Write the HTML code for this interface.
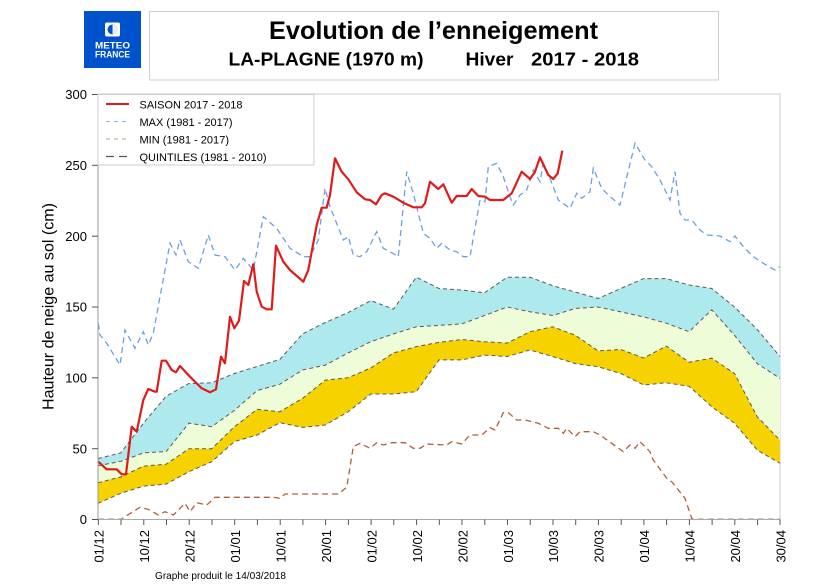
<!DOCTYPE html>
<html><head><meta charset="utf-8"><style>
html,body{margin:0;padding:0;background:#fff;}
svg{display:block;}
</style></head><body>
<svg width="838" height="588" viewBox="0 0 838 588" xmlns="http://www.w3.org/2000/svg" font-family="Liberation Sans, sans-serif">
<rect width="838" height="588" fill="#fff"/>
<!-- logo -->
<rect x="84" y="11" width="57" height="57" fill="#0052cc"/>
<rect x="105" y="22.5" width="15" height="14" rx="2" fill="#fff"/>
<circle cx="112.5" cy="29.5" r="5" fill="#0052cc"/>
<path d="M112.5 24.5 A5 5 0 0 1 112.5 34.5 Z" fill="#fff" opacity="0.9"/>
<text x="112.5" y="48.5" text-anchor="middle" font-size="9" font-weight="bold" fill="#fff" textLength="35" lengthAdjust="spacingAndGlyphs">METEO</text>
<text x="112.5" y="57.5" text-anchor="middle" font-size="9" font-weight="bold" fill="#fff" textLength="35" lengthAdjust="spacingAndGlyphs">FRANCE</text>
<!-- title box -->
<rect x="149.5" y="11.5" width="569" height="68.5" fill="#fff" stroke="#cfcfcf" stroke-width="1"/>
<text x="269" y="39" font-size="25" font-weight="bold" fill="#000" textLength="329" lengthAdjust="spacingAndGlyphs">Evolution de l’enneigement</text>
<text x="228.5" y="65.5" font-size="18" font-weight="bold" fill="#000" textLength="195" lengthAdjust="spacingAndGlyphs">LA-PLAGNE (1970 m)</text>
<text x="465.5" y="65.5" font-size="18" font-weight="bold" fill="#000" textLength="48" lengthAdjust="spacingAndGlyphs">Hiver</text>
<text x="531" y="65.5" font-size="18" font-weight="bold" fill="#000" textLength="108" lengthAdjust="spacingAndGlyphs">2017 - 2018</text>

<!-- frame -->
<rect x="98" y="94" width="682" height="425.5" fill="#fff" stroke="#cccccc" stroke-width="1"/>

<!-- quintile fills -->
<polygon fill="#aeeaed" points="98,458.6 120.7,452.9 143.5,423.1 166.2,396.2 188.9,383.5 211.7,382.8 234.4,373.5 257.1,366.5 279.9,359.4 302.6,333.9 325.3,322.5 348.1,312.6 370.8,300.6 393.5,309.1 416.3,277.2 439,288.5 461.7,290 484.5,292.8 507.2,277.2 529.9,277.2 552.7,285.7 575.4,292.1 598.1,298.5 620.9,288.5 643.6,278.6 666.3,278.6 689.1,285 711.8,288.5 734.5,307 757.3,329.6 780,356.5 780,378.4 757.3,363.6 734.5,335.3 711.8,309.8 689.1,331.7 666.3,323.2 643.6,316.9 620.9,311.9 598.1,307 575.4,308.4 552.7,315.5 529.9,311.8 507.2,307 484.5,315.5 461.7,324 439,325.4 416.3,326.8 393.5,333.9 370.8,341.7 348.1,353 325.3,365.1 302.6,370 279.9,384.2 257.1,390.6 234.4,410.4 211.7,426.7 188.9,423.1 166.2,451.5 143.5,452.9 120.7,461.4 98,465.7"/>
<polygon fill="#effcd8" points="98,465.7 120.7,461.4 143.5,452.9 166.2,451.5 188.9,423.1 211.7,426.7 234.4,410.4 257.1,390.6 279.9,384.2 302.6,370 325.3,365.1 348.1,353 370.8,341.7 393.5,333.9 416.3,326.8 439,325.4 461.7,324 484.5,315.5 507.2,307 529.9,311.8 552.7,315.5 575.4,308.4 598.1,307 620.9,311.9 643.6,316.9 666.3,323.2 689.1,331.7 711.8,309.8 734.5,335.3 757.3,363.6 780,378.4 780,440.2 757.3,416.8 734.5,373.5 711.8,358.2 689.1,362.2 666.3,346.1 643.6,358 620.9,349.5 598.1,350.9 575.4,335.3 552.7,326.8 529.9,331.7 507.2,343.1 484.5,341.7 461.7,339.5 439,342.4 416.3,346.6 393.5,353 370.8,367.9 348.1,377.8 325.3,380.1 302.6,398.3 279.9,411.8 257.1,409.3 234.4,426.7 211.7,448.7 188.9,448.7 166.2,464.2 143.5,466.1 120.7,477 98,482.7"/>
<polygon fill="#f6d200" points="98,482.7 120.7,477 143.5,466.1 166.2,464.2 188.9,448.7 211.7,448.7 234.4,426.7 257.1,409.3 279.9,411.8 302.6,398.3 325.3,380.1 348.1,377.8 370.8,367.9 393.5,353 416.3,346.6 439,342.4 461.7,339.5 484.5,341.7 507.2,343.1 529.9,331.7 552.7,326.8 575.4,335.3 598.1,350.9 620.9,349.5 643.6,358 666.3,346.1 689.1,362.2 711.8,358.2 734.5,373.5 757.3,416.8 780,440.2 780,463.2 757.3,450.1 734.5,423.3 711.8,406.7 689.1,386.3 666.3,382.8 643.6,384.9 620.9,373.5 598.1,366.7 575.4,363.6 552.7,356.5 529.9,350 507.2,356.5 484.5,355.1 461.7,359.9 439,359.9 416.3,391.7 393.5,394 370.8,394 348.1,411.8 325.3,425 302.6,427.4 279.9,422.7 257.1,435 234.4,441.6 211.7,461.7 188.9,471.7 166.2,484.1 143.5,486.1 120.7,493.3 98,503.3"/>

<!-- quintile lines -->
<g fill="none" stroke="#5a5a5a" stroke-width="1" stroke-dasharray="4,3">
<polyline points="98,458.6 120.7,452.9 143.5,423.1 166.2,396.2 188.9,383.5 211.7,382.8 234.4,373.5 257.1,366.5 279.9,359.4 302.6,333.9 325.3,322.5 348.1,312.6 370.8,300.6 393.5,309.1 416.3,277.2 439,288.5 461.7,290 484.5,292.8 507.2,277.2 529.9,277.2 552.7,285.7 575.4,292.1 598.1,298.5 620.9,288.5 643.6,278.6 666.3,278.6 689.1,285 711.8,288.5 734.5,307 757.3,329.6 780,356.5"/>
<polyline points="98,465.7 120.7,461.4 143.5,452.9 166.2,451.5 188.9,423.1 211.7,426.7 234.4,410.4 257.1,390.6 279.9,384.2 302.6,370 325.3,365.1 348.1,353 370.8,341.7 393.5,333.9 416.3,326.8 439,325.4 461.7,324 484.5,315.5 507.2,307 529.9,311.8 552.7,315.5 575.4,308.4 598.1,307 620.9,311.9 643.6,316.9 666.3,323.2 689.1,331.7 711.8,309.8 734.5,335.3 757.3,363.6 780,378.4"/>
<polyline points="98,482.7 120.7,477 143.5,466.1 166.2,464.2 188.9,448.7 211.7,448.7 234.4,426.7 257.1,409.3 279.9,411.8 302.6,398.3 325.3,380.1 348.1,377.8 370.8,367.9 393.5,353 416.3,346.6 439,342.4 461.7,339.5 484.5,341.7 507.2,343.1 529.9,331.7 552.7,326.8 575.4,335.3 598.1,350.9 620.9,349.5 643.6,358 666.3,346.1 689.1,362.2 711.8,358.2 734.5,373.5 757.3,416.8 780,440.2"/>
<polyline points="98,503.3 120.7,493.3 143.5,486.1 166.2,484.1 188.9,471.7 211.7,461.7 234.4,441.6 257.1,435 279.9,422.7 302.6,427.4 325.3,425 348.1,411.8 370.8,394 393.5,394 416.3,391.7 439,359.9 461.7,359.9 484.5,355.1 507.2,356.5 529.9,350 552.7,356.5 575.4,363.6 598.1,366.7 620.9,373.5 643.6,384.9 666.3,382.8 689.1,386.3 711.8,406.7 734.5,423.3 757.3,450.1 780,463.2"/>
</g>

<!-- MIN -->
<polyline fill="none" stroke="#b0603a" stroke-width="1.3" stroke-dasharray="6,4" points="98,519.3 121.7,519.3 123.3,517.7 140,507.3 148.3,509.3 158.3,515 165,511.7 173.3,515 185,503.3 190,511.7 196.7,502.7 206.7,505 215,497.3 273.3,497.3 280,498.3 285,494 338.3,494 346.7,487.3 353.3,446.7 360,443.3 370,448.3 376.7,442.7 383.3,445 391.7,442.7 405,442.7 413.3,448.3 420,448.3 426.7,444 446.7,445 451.7,441.7 461.7,444 470,435 481.7,435 490,427.7 495,430 503.3,412.7 508.3,412.7 516.7,420 525,420 538.3,423.3 548.3,428.3 558.3,428.3 563.3,433.3 566.7,428.3 575,436.7 580,431.7 593.3,431.7 600,435 611.7,443.3 623.3,451.7 630,445 635,448.3 640,441.7 650,451.7 653.3,460 666.7,478.3 671.7,481.7 685,498.3 691.7,518.3 693.3,519.3 780,519.3"/>

<!-- MAX -->
<polyline fill="none" stroke="#6d9fe2" stroke-width="1.3" stroke-dasharray="6,4" points="98.3,323.3 100,335 106.7,343.3 120,365 125,330 135,348.3 143.3,331.7 148.3,345 153.3,333.3 160,296.7 170,243.3 176,255 180,240 188.3,261.7 198.3,268.3 208.3,235 215,255 225,256.7 235,270 243.3,258.3 253.3,270 263.3,216.7 276.7,228.3 290,248.3 303.3,256.7 310,256.7 318.3,240 325,188.3 330,206.7 343.3,240 348.3,236.7 353.3,255 360,256.7 366.7,251.7 376.7,231.7 383.3,248.3 390,251.7 398.3,256.7 406.7,171.7 413.3,193.3 423.3,233.3 430,238.3 436.7,248.3 441.7,243.3 450,250 456.7,251.7 463.3,256.7 470,256.7 480,200 485,201.7 488.3,166.7 496.7,163.3 503.3,176.7 510,196.7 513.3,205 520,195 526.7,190 533.3,170 540,181.7 543.3,163.3 550,178.3 558.3,200 570,208.3 576.7,193.3 581.7,198.3 590,191.7 593.3,168.3 601.7,188.3 608.3,195 620,205 635,143.3 645,160 651.7,166.7 660,180 670,200 675,171.7 680,213.3 685,220 691.7,220 700,230 706.7,235 720,236 730,241.7 735,236 743.3,246.7 753.3,256.7 763.3,263.3 775,270 780,266.7"/>

<!-- SAISON -->
<polyline fill="none" stroke="#e01a1a" stroke-width="2.2" stroke-linejoin="round" points="98.3,461.7 106.7,469.3 116.7,469.3 121.7,474.3 126,474.3 131.7,426.7 136.7,431.7 143.3,400 148.3,389 155,391.7 156.7,391.7 161.7,360.7 166,360.7 171.7,370 176,372.3 180,366 186.7,373.3 193.3,380 201.7,388.3 210,392.3 216,389.3 221,356.7 225,363.3 230,316.7 234.3,328.3 239,320.7 244,281 248.3,285 253.3,264.3 256.7,291.7 261.7,306.7 266.7,309.3 271.7,309.3 276,245.7 283.3,261.7 290,270 303.3,281.7 308.3,270 316.7,225 321.7,207.7 326.7,207.7 330,195 335,158.3 341.7,171.7 348.3,179.3 356.7,192.3 365,199.3 370,200 376,204.3 381.7,195 385,193.3 393.3,196.7 403.3,202.7 413.3,207.3 421.7,207.3 425,203.3 430,181.7 438.3,189 443.3,184.3 451.7,202.7 456.7,196 466.7,196 471.7,189 478.3,196 485,196.7 490,200 503.3,200 511.7,193.3 521.7,171.7 530,179 535,171.7 540,157.3 548.3,175 553.3,179 557.7,173.3 562.3,150.7"/>

<!-- axes -->
<line x1="98" y1="94" x2="98" y2="519.5" stroke="#999" stroke-width="1"/>
<line x1="98" y1="519.5" x2="780" y2="519.5" stroke="#aaa" stroke-width="1"/>
<g stroke="#555" stroke-width="1">
<line x1="92" y1="94.5" x2="98" y2="94.5"/>
<line x1="92" y1="165.3" x2="98" y2="165.3"/>
<line x1="92" y1="236.2" x2="98" y2="236.2"/>
<line x1="92" y1="307" x2="98" y2="307"/>
<line x1="92" y1="377.8" x2="98" y2="377.8"/>
<line x1="92" y1="448.7" x2="98" y2="448.7"/>
<line x1="92" y1="519.5" x2="98" y2="519.5"/>
</g>
<g font-size="13" fill="#000" text-anchor="end">
<text x="87" y="99">300</text>
<text x="87" y="170">250</text>
<text x="87" y="241">200</text>
<text x="87" y="311.7">150</text>
<text x="87" y="382.5">100</text>
<text x="87" y="453.4">50</text>
<text x="87" y="524.2">0</text>
</g>
<g stroke="#555" stroke-width="1">
<line x1="98.3" y1="519.5" x2="98.3" y2="525"/><line x1="121" y1="519.5" x2="121" y2="525"/>
<line x1="143.8" y1="519.5" x2="143.8" y2="525"/><line x1="166.5" y1="519.5" x2="166.5" y2="525"/>
<line x1="189.2" y1="519.5" x2="189.2" y2="525"/><line x1="212" y1="519.5" x2="212" y2="525"/>
<line x1="234.7" y1="519.5" x2="234.7" y2="525"/><line x1="257.4" y1="519.5" x2="257.4" y2="525"/>
<line x1="280.2" y1="519.5" x2="280.2" y2="525"/><line x1="302.9" y1="519.5" x2="302.9" y2="525"/>
<line x1="325.6" y1="519.5" x2="325.6" y2="525"/><line x1="348.4" y1="519.5" x2="348.4" y2="525"/>
<line x1="371.1" y1="519.5" x2="371.1" y2="525"/><line x1="393.8" y1="519.5" x2="393.8" y2="525"/>
<line x1="416.6" y1="519.5" x2="416.6" y2="525"/><line x1="439.3" y1="519.5" x2="439.3" y2="525"/>
<line x1="462" y1="519.5" x2="462" y2="525"/><line x1="484.8" y1="519.5" x2="484.8" y2="525"/>
<line x1="507.5" y1="519.5" x2="507.5" y2="525"/><line x1="530.2" y1="519.5" x2="530.2" y2="525"/>
<line x1="553" y1="519.5" x2="553" y2="525"/><line x1="575.7" y1="519.5" x2="575.7" y2="525"/>
<line x1="598.4" y1="519.5" x2="598.4" y2="525"/><line x1="621.2" y1="519.5" x2="621.2" y2="525"/>
<line x1="643.9" y1="519.5" x2="643.9" y2="525"/><line x1="666.6" y1="519.5" x2="666.6" y2="525"/>
<line x1="689.4" y1="519.5" x2="689.4" y2="525"/><line x1="712.1" y1="519.5" x2="712.1" y2="525"/>
<line x1="734.8" y1="519.5" x2="734.8" y2="525"/><line x1="757.6" y1="519.5" x2="757.6" y2="525"/>
<line x1="780" y1="519.5" x2="780" y2="525"/>
</g>
<g font-size="13" fill="#000" text-anchor="end">
<text transform="translate(103.5,530) rotate(-90)">01/12</text>
<text transform="translate(149,530) rotate(-90)">10/12</text>
<text transform="translate(194.5,530) rotate(-90)">20/12</text>
<text transform="translate(240,530) rotate(-90)">01/01</text>
<text transform="translate(285.4,530) rotate(-90)">10/01</text>
<text transform="translate(330.9,530) rotate(-90)">20/01</text>
<text transform="translate(376.4,530) rotate(-90)">01/02</text>
<text transform="translate(421.8,530) rotate(-90)">10/02</text>
<text transform="translate(467.3,530) rotate(-90)">20/02</text>
<text transform="translate(512.8,530) rotate(-90)">01/03</text>
<text transform="translate(558.2,530) rotate(-90)">10/03</text>
<text transform="translate(603.7,530) rotate(-90)">20/03</text>
<text transform="translate(649.2,530) rotate(-90)">01/04</text>
<text transform="translate(694.6,530) rotate(-90)">10/04</text>
<text transform="translate(740.1,530) rotate(-90)">20/04</text>
<text transform="translate(785.3,530) rotate(-90)">30/04</text>
</g>
<text transform="translate(53.5,306.5) rotate(-90)" text-anchor="middle" font-size="16" fill="#000" textLength="207" lengthAdjust="spacingAndGlyphs">Hauteur de neige au sol (cm)</text>
<text x="155" y="579" font-size="10" fill="#000" textLength="131" lengthAdjust="spacingAndGlyphs">Graphe produit le 14/03/2018</text>

<!-- legend -->
<rect x="98" y="94.5" width="216" height="70.5" fill="#fff" stroke="#cccccc" stroke-width="1"/>
<line x1="106" y1="104" x2="129" y2="104" stroke="#e01a1a" stroke-width="2"/>
<line x1="106" y1="121.5" x2="129" y2="121.5" stroke="#8db8ea" stroke-width="1" stroke-dasharray="4,4"/>
<line x1="106" y1="139" x2="129" y2="139" stroke="#c49a80" stroke-width="1" stroke-dasharray="4,4"/>
<line x1="106" y1="156.5" x2="129" y2="156.5" stroke="#555" stroke-width="1.3" stroke-dasharray="8,5"/>
<g font-size="11" fill="#000">
<text x="139.5" y="108.3" textLength="103" lengthAdjust="spacingAndGlyphs">SAISON 2017 - 2018</text>
<text x="139.5" y="125.8" textLength="93" lengthAdjust="spacingAndGlyphs">MAX (1981 - 2017)</text>
<text x="139.5" y="143.3" textLength="89.5" lengthAdjust="spacingAndGlyphs">MIN (1981 - 2017)</text>
<text x="139.5" y="160.8" textLength="127" lengthAdjust="spacingAndGlyphs">QUINTILES (1981 - 2010)</text>
</g>
</svg>
</body></html>
